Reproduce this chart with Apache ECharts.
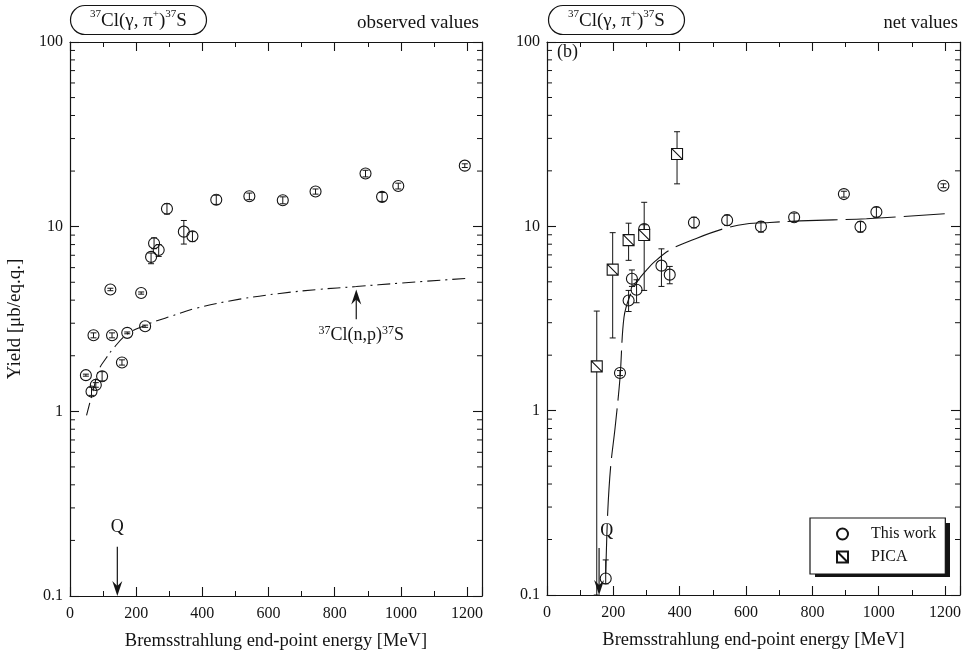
<!DOCTYPE html>
<html>
<head>
<meta charset="utf-8">
<title>37Cl(γ, π+)37S yields</title>
<script src="https://cdn.jsdelivr.net/npm/echarts@6/dist/echarts.min.js"></script>
<style>
  html, body { margin: 0; padding: 0; background: #fff; }
  #chart { width: 970px; height: 656px; }
</style>
</head>
<body>
<div id="chart"></div>
<script>
// ---- axis ticks ----
const xTickValues = [0, 200, 400, 600, 800, 1000, 1200];
const yTickValues = [0.1, 1, 10, 100];
const yMinorValues = [0.2, 0.3, 0.4, 0.5, 0.6, 0.7, 0.8, 0.9,
                      2, 3, 4, 5, 6, 7, 8, 9,
                      20, 30, 40, 50, 60, 70, 80, 90];

// ---- (a) observed yields: energy [MeV], yield, error bounds ----
const obsE  = [48, 65, 78, 97, 71, 122, 127, 157, 173, 215, 227, 245, 254, 268, 293, 344, 370, 442, 542, 643, 742, 893, 943, 992, 1193];
const obsY  = [1.57, 1.28, 1.39, 1.55, 2.58, 4.57, 2.58, 1.84, 2.66, 4.37, 2.89, 6.86, 8.13, 7.48, 12.5, 9.4, 8.87, 14.0, 14.6, 13.9, 15.5, 19.4, 14.5, 16.6, 21.4];
const obsLo = [1.55, 1.22, 1.35, 1.46, 2.50, 4.50, 2.50, 1.78, 2.63, 4.31, 2.85, 6.3, 7.6, 6.9, 11.7, 8.05, 8.3, 13.2, 14.0, 13.3, 15.0, 18.6, 13.7, 16.0, 20.9];
const obsHi = [1.59, 1.35, 1.43, 1.64, 2.66, 4.64, 2.66, 1.90, 2.69, 4.43, 2.93, 7.2, 8.7, 8.0, 13.3, 10.8, 9.4, 14.8, 15.2, 14.5, 16.0, 20.2, 15.3, 17.2, 21.9];

// 37Cl(n,p)37S contribution
const npE = [50, 70, 88, 110, 130, 173, 227, 260, 300, 382, 513, 634, 750, 865, 1000, 1200];
const npY = [0.95, 1.3, 1.69, 1.95, 2.18, 2.62, 2.92, 3.08, 3.25, 3.62, 4.05, 4.35, 4.57, 4.74, 4.95, 5.25];

// ---- (b) net yields, this work ----
const netE  = [177, 220, 246, 256, 270, 293, 345, 370, 443, 543, 645, 745, 895, 945, 993, 1195];
const netY  = [0.123, 1.6, 3.96, 5.2, 4.53, 9.68, 6.12, 5.47, 10.5, 10.8, 9.97, 11.2, 14.96, 9.96, 11.97, 16.6];
const netLo = [0.115, 1.55, 3.45, 4.72, 3.85, 9.2, 4.72, 4.88, 9.8, 10.1, 9.3, 10.6, 14.4, 9.3, 11.2, 16.2];
const netHi = [0.155, 1.65, 4.49, 5.8, 5.13, 10.2, 7.55, 6.06, 11.2, 11.5, 10.6, 11.8, 15.5, 10.6, 12.7, 17.0];

// PICA calculation
const picaE  = [150, 198, 246, 293, 392];
const picaY  = [1.74, 5.82, 8.42, 8.98, 24.7];
const picaLo = [0.1, 2.48, 6.54, 4.49, 17.0];
const picaHi = [3.47, 9.24, 10.4, 13.5, 32.6];

// fitted curve through the net yields
const fitE = [177, 183, 192, 205, 220, 232, 250, 275, 303, 322, 373, 450, 533, 600, 672, 762, 963, 1199];
const fitY = [0.13, 0.28, 0.5, 0.8, 1.5, 3.2, 4.2, 5.1, 5.87, 6.38, 7.49, 8.6, 9.71, 10.3, 10.5, 10.7, 11.0, 11.7];

// annotations: [energy, yield from, yield to]
const arrowsA = [[143, 0.185, 0.1], [865, 3.15, 4.57]];
const arrowsB = [[157, 0.18, 0.1]];
const labelsA = [{ value: [143, 0.237], name: 'Q' }, { value: [880, 2.57], name: '{s|37}Cl(n,p){s|37}S' }];
const labelsB = [{ value: [180, 0.221], name: 'Q' }];

const SERIF = '"Liberation Serif", "DejaVu Serif", serif';
const INK = '#141414';

const pairs = (xs, ys) => xs.map((x, i) => [x, ys[i]]);
const bars = (xs, lo, hi) => xs.map((x, i) => [x, lo[i], hi[i]]);

function xAxisPair(grid) {
  const base = {
    type: 'value', gridIndex: grid, min: 0, max: 1245, interval: 200,
    axisLine: { show: true, onZero: false, lineStyle: { color: INK, width: 1.2 } },
    axisTick: { show: true, inside: true, length: 9, lineStyle: { color: INK, width: 1.1 } },
    minorTick: { show: true, splitNumber: 2, length: 5, lineStyle: { color: INK, width: 1 } },
    splitLine: { show: false }, minorSplitLine: { show: false }
  };
  return [
    Object.assign({}, base, {
      position: 'bottom',
      name: 'Bremsstrahlung end-point energy [MeV]', nameLocation: 'middle', nameGap: 36,
      nameTextStyle: { fontFamily: SERIF, fontSize: 18.5, color: INK },
      axisLabel: {
        margin: 10, fontFamily: SERIF, fontSize: 16, color: INK, showMaxLabel: false,
        formatter: v => (xTickValues.indexOf(v) >= 0 ? String(v) : '')
      }
    }),
    Object.assign({}, base, { position: 'top', axisLabel: { show: false } })
  ];
}

function yAxisPair(grid, withName) {
  const base = {
    type: 'log', logBase: 10, gridIndex: grid, min: 0.1, max: 100,
    axisLine: { show: true, onZero: false, lineStyle: { color: INK, width: 1.2 } },
    axisTick: { show: true, inside: true, length: 9, lineStyle: { color: INK, width: 1.1 } },
    splitLine: { show: false }
  };
  const left = Object.assign({}, base, {
    position: 'left',
    axisLabel: {
      margin: 7, fontFamily: SERIF, fontSize: 16, color: INK,
      formatter: v => {
        const hit = yTickValues.find(t => Math.abs(Math.log10(t) - Math.log10(v)) < 1e-6);
        return hit !== undefined ? String(hit) : '';
      }
    }
  });
  if (withName) {
    Object.assign(left, {
      name: 'Yield [μb/eq.q.]', nameLocation: 'middle', nameGap: 45,
      nameTextStyle: { fontFamily: SERIF, fontSize: 19, color: INK }
    });
  }
  return [left, Object.assign({}, base, { position: 'right', axisLabel: { show: false } })];
}

// error bars with short caps
function errorBarItem(params, api) {
  const x = api.value(0);
  const a = api.coord([x, api.value(1)]);
  const b = api.coord([x, api.value(2)]);
  const w = 3;
  const st = { stroke: INK, lineWidth: 1 };
  return {
    type: 'group',
    children: [
      { type: 'line', shape: { x1: a[0], y1: a[1], x2: b[0], y2: b[1] }, style: st },
      { type: 'line', shape: { x1: a[0] - w, y1: a[1], x2: a[0] + w, y2: a[1] }, style: st },
      { type: 'line', shape: { x1: b[0] - w, y1: b[1], x2: b[0] + w, y2: b[1] }, style: st }
    ]
  };
}

// minor ticks of the logarithmic axes, on both frame sides
function logMinorItem(params, api) {
  const cs = params.coordSys;
  const y = api.coord([0, api.value(1)])[1];
  const st = { stroke: INK, lineWidth: 1 };
  return {
    type: 'group',
    children: [
      { type: 'line', shape: { x1: cs.x, y1: y, x2: cs.x + 5, y2: y }, style: st },
      { type: 'line', shape: { x1: cs.x + cs.width - 5, y1: y, x2: cs.x + cs.width, y2: y }, style: st }
    ]
  };
}

// arrow with a notched head at the "to" end
function arrowItem(params, api) {
  const x = api.value(0);
  const p = api.coord([x, api.value(1)]);
  const q = api.coord([x, api.value(2)]);
  const dir = q[1] > p[1] ? 1 : -1;
  const len = 15, hw = 5;
  return {
    type: 'group',
    children: [
      { type: 'line', shape: { x1: p[0], y1: p[1], x2: q[0], y2: q[1] - dir * 8 }, style: { stroke: INK, lineWidth: 1.2 } },
      {
        type: 'polygon',
        shape: { points: [[q[0], q[1]], [q[0] - hw, q[1] - dir * len], [q[0], q[1] - dir * (len - 5)], [q[0] + hw, q[1] - dir * len]] },
        style: { fill: INK }
      }
    ]
  };
}

const minorData = yMinorValues.map(v => [0, v]);
const squarePath = 'path://M0,0L10,0L10,10L0,10ZM0,0L10,10';
const circleStyle = { color: 'rgba(0,0,0,0)', borderColor: INK, borderWidth: 1.1, opacity: 1 };
const labelRich = {
  s: { fontFamily: SERIF, fontSize: 12, verticalAlign: 'top', lineHeight: 12, color: INK },
};

function textSeries(xi, yi, data) {
  return {
    type: 'scatter', xAxisIndex: xi, yAxisIndex: yi, symbolSize: 0, data: data, silent: true,
    itemStyle: { opacity: 1 },
    label: {
      show: true, position: 'inside', formatter: p => p.name,
      fontFamily: SERIF, fontSize: 18, color: INK, lineHeight: 22, rich: labelRich
    }, z: 6
  };
}

const chart = echarts.init(document.getElementById('chart'), null, { renderer: 'canvas' });

const titleRich = {
  s: { fontFamily: SERIF, fontSize: 11, fontWeight: 'normal', verticalAlign: 'top', lineHeight: 12, color: INK },
  m: { fontFamily: SERIF, fontSize: 19, fontWeight: 'normal', lineHeight: 24, color: INK }
};
const reactionText = '{s|37}{m|Cl(γ, π}{s|+}{m|)}{s|37}{m|S}';
const boxTitle = left => ({
  text: reactionText, left: left, top: 5, padding: [4, 20, 4, 20],
  borderColor: INK, borderWidth: 1.2, borderRadius: 15,
  textStyle: { fontWeight: 'normal', rich: titleRich }
});

chart.setOption({
  animation: false,
  backgroundColor: '#fff',
  title: [
    boxTitle(70),
    boxTitle(548),
    { text: 'observed values', right: 491, top: 14, padding: 0, textStyle: { fontFamily: SERIF, fontSize: 19, fontWeight: 'normal', color: INK } },
    { text: 'net values', right: 12, top: 14, padding: 0, textStyle: { fontFamily: SERIF, fontSize: 18.5, fontWeight: 'normal', color: INK } }
  ],
  graphic: [
    { type: 'text', left: 557, top: 43, style: { text: '(b)', font: '18px ' + SERIF, fill: INK } },
    // hard drop shadow behind the legend box
    { type: 'rect', left: 815, top: 523, z: 1, shape: { width: 135, height: 54 }, style: { fill: INK } }
  ],
  legend: {
    orient: 'vertical', left: 810, top: 518, z: 10,
    data: [
      { name: 'This work', icon: 'circle' },
      { name: 'PICA', icon: squarePath }
    ],
    itemWidth: 11, itemHeight: 11, itemGap: 7,
    padding: [8, 9, 9, 26],
    backgroundColor: '#fff', borderColor: INK, borderWidth: 1.2, borderRadius: 0,
    textStyle: { fontFamily: SERIF, fontSize: 16, color: INK, padding: [0, 0, 0, 18] },
    selectedMode: false
  },
  grid: [
    { left: 70, top: 42, width: 412, height: 557 },
    { left: 547, top: 42, width: 413, height: 553 }
  ],
  xAxis: xAxisPair(0).concat(xAxisPair(1)),
  yAxis: yAxisPair(0, true).concat(yAxisPair(1, false)),
  series: [
    // --- panel (a) ---
    { type: 'custom', xAxisIndex: 0, yAxisIndex: 0, renderItem: logMinorItem, data: minorData, encode: { x: 0, y: 1 }, silent: true, z: 3 },
    {
      type: 'line', name: '(n,p)', xAxisIndex: 0, yAxisIndex: 0, data: pairs(npE, npY),
      smooth: 0.4, showSymbol: false, symbol: 'none',
      lineStyle: { color: INK, width: 1.1, type: [13, 5, 2, 5] }, z: 2
    },
    { type: 'custom', xAxisIndex: 0, yAxisIndex: 0, renderItem: errorBarItem, data: bars(obsE, obsLo, obsHi), encode: { x: 0, y: [1, 2] }, silent: true, z: 3 },
    {
      type: 'scatter', name: 'observed', xAxisIndex: 0, yAxisIndex: 0, data: pairs(obsE, obsY),
      symbol: 'circle', symbolSize: 11, itemStyle: circleStyle, z: 4
    },
    { type: 'custom', xAxisIndex: 0, yAxisIndex: 0, renderItem: arrowItem, data: arrowsA, encode: { x: 0, y: [1, 2] }, silent: true, z: 5 },
    textSeries(0, 0, labelsA),

    // --- panel (b) ---
    { type: 'custom', xAxisIndex: 2, yAxisIndex: 2, renderItem: logMinorItem, data: minorData, encode: { x: 0, y: 1 }, silent: true, z: 3 },
    {
      type: 'line', name: 'fit', xAxisIndex: 2, yAxisIndex: 2, data: pairs(fitE, fitY),
      smooth: 0.35, showSymbol: false, symbol: 'none',
      lineStyle: { color: INK, width: 1.1, type: [50, 8] }, z: 2
    },
    { type: 'custom', xAxisIndex: 2, yAxisIndex: 2, renderItem: errorBarItem, data: bars(picaE, picaLo, picaHi), encode: { x: 0, y: [1, 2] }, silent: true, z: 3 },
    { type: 'custom', xAxisIndex: 2, yAxisIndex: 2, renderItem: errorBarItem, data: bars(netE, netLo, netHi), encode: { x: 0, y: [1, 2] }, silent: true, z: 3 },
    {
      type: 'scatter', name: 'This work', xAxisIndex: 2, yAxisIndex: 2, data: pairs(netE, netY),
      symbol: 'circle', symbolSize: 11, itemStyle: circleStyle, z: 4
    },
    {
      type: 'scatter', name: 'PICA', xAxisIndex: 2, yAxisIndex: 2, data: pairs(picaE, picaY),
      symbol: squarePath, symbolSize: 11, itemStyle: { color: '#fff', borderColor: INK, borderWidth: 1.1, opacity: 1 }, z: 4
    },
    { type: 'custom', xAxisIndex: 2, yAxisIndex: 2, renderItem: arrowItem, data: arrowsB, encode: { x: 0, y: [1, 2] }, silent: true, z: 5 },
    textSeries(2, 2, labelsB)
  ]
});
</script>
</body>
</html>
